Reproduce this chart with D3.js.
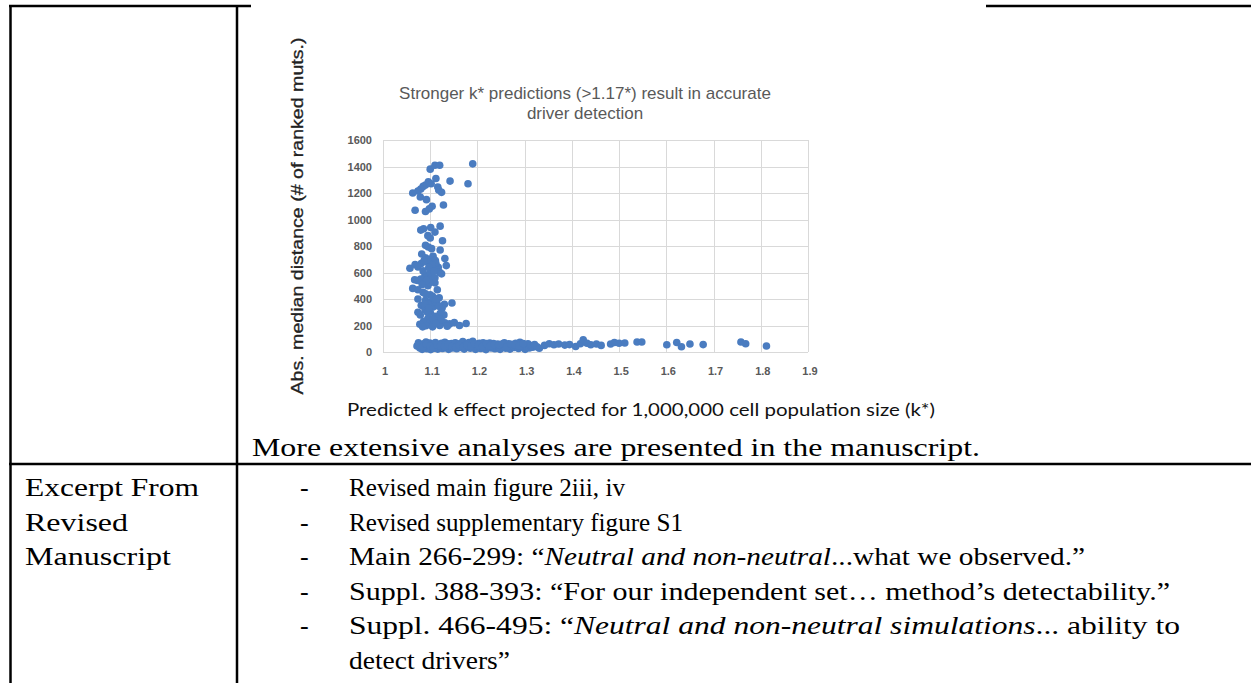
<!DOCTYPE html>
<html lang="en">
<head>
  <meta charset="UTF-8">
  <title>Stronger k* predictions result in accurate driver detection</title>
  <script src="https://d3js.org/d3.v7.min.js"></script>
  <style>
    body { margin: 0; padding: 0; background: #fff; }
    svg { display: block; }
    .doc { font-family: "Liberation Serif", "Times New Roman", serif; font-size: 26px; fill: #000; }
    .tick-label { font-family: "Liberation Sans", Arial, sans-serif; font-size: 11px; fill: #595959; font-weight: bold; }
  </style>
</head>
<body>
  <div id="chart"></div>

  <script>
    // scatter data: [k*, abs. median distance]
    const upperCluster = [
      [1.100, 1380], [1.110, 1410], [1.120, 1410], [1.190, 1420], [1.180, 1270], [1.142, 1290],
      [1.112, 1310], [1.090, 1260], [1.096, 1285], [1.102, 1270], [1.085, 1250], [1.080, 1230],
      [1.074, 1215], [1.063, 1200], [1.079, 1170], [1.116, 1245], [1.118, 1222], [1.124, 1205],
      [1.128, 1110], [1.092, 1150], [1.104, 1100], [1.068, 1070], [1.090, 1060], [1.098, 1080],
      [1.121, 950], [1.101, 940], [1.086, 930], [1.080, 920], [1.110, 905], [1.095, 878],
      [1.100, 860], [1.126, 840], [1.090, 805], [1.096, 792], [1.103, 780], [1.121, 770],
      [1.082, 740], [1.106, 722], [1.090, 710], [1.099, 700], [1.111, 690], [1.131, 705],
      [1.094, 680], [1.081, 668], [1.068, 660], [1.057, 632], [1.074, 642], [1.106, 662],
      [1.101, 648], [1.117, 640], [1.134, 652], [1.120, 602], [1.124, 590], [1.089, 578],
      [1.101, 562], [1.080, 550], [1.073, 540], [1.067, 545], [1.110, 522], [1.095, 500],
      [1.063, 480], [1.074, 470], [1.085, 450], [1.100, 432], [1.119, 410], [1.074, 400],
      [1.090, 390], [1.101, 378], [1.114, 370], [1.130, 360], [1.146, 370], [1.081, 352],
      [1.106, 340], [1.125, 330], [1.089, 320], [1.100, 300], [1.121, 290], [1.079, 280],
      [1.110, 270], [1.095, 252], [1.086, 232], [1.100, 222], [1.116, 232], [1.131, 220],
      [1.141, 212], [1.151, 222], [1.162, 200], [1.176, 215], [1.078, 210], [1.091, 198],
      [1.105, 190], [1.120, 200], [1.136, 195], [1.111, 382], [1.095, 362], [1.100, 600],
      [1.085, 612], [1.115, 470], [1.090, 440], [1.105, 420], [1.110, 560], [1.099, 522],
      [1.094, 300], [1.129, 280], [1.074, 300], [1.087, 690], [1.112, 670], [1.118, 345],
      [1.104, 655], [1.097, 640], [1.108, 610], [1.092, 540], [1.083, 510], [1.112, 400],
      [1.088, 360], [1.097, 330], [1.106, 250], [1.123, 245], [1.084, 190], [1.112, 215]
    ];

    const lowerBand = [
      [1.072, 45], [1.075, 70], [1.078, 30], [1.081, 55], [1.083, 20], [1.086, 62], [1.088, 40],
      [1.091, 75], [1.093, 25], [1.095, 50], [1.097, 35], [1.099, 68], [1.101, 18], [1.103, 48],
      [1.106, 60], [1.108, 28], [1.111, 72], [1.113, 42], [1.116, 22], [1.118, 58], [1.121, 38],
      [1.124, 66], [1.126, 26], [1.129, 52], [1.131, 74], [1.134, 32], [1.137, 56], [1.139, 20],
      [1.142, 44], [1.145, 64], [1.147, 30], [1.150, 50], [1.153, 70], [1.156, 24], [1.158, 46],
      [1.161, 62], [1.164, 34], [1.166, 54], [1.169, 78], [1.172, 22], [1.174, 44], [1.177, 60],
      [1.180, 36], [1.182, 72], [1.185, 28], [1.188, 52], [1.190, 80], [1.193, 40], [1.196, 20],
      [1.198, 58], [1.201, 34], [1.204, 66], [1.207, 26], [1.209, 48], [1.212, 70], [1.215, 38],
      [1.218, 18], [1.220, 56], [1.223, 42], [1.226, 68], [1.229, 30], [1.231, 50], [1.234, 64],
      [1.237, 24], [1.240, 46], [1.243, 60], [1.246, 36], [1.248, 20], [1.251, 54], [1.254, 40],
      [1.257, 70], [1.260, 28], [1.263, 48], [1.266, 62], [1.269, 22], [1.272, 42], [1.275, 56],
      [1.278, 34], [1.281, 66], [1.284, 48], [1.287, 26], [1.290, 74], [1.292, 58], [1.295, 38],
      [1.298, 50], [1.301, 20], [1.304, 44], [1.307, 62], [1.310, 30], [1.313, 48], [1.317, 36],
      [1.321, 56], [1.326, 40], [1.331, 28],
      [1.077, 52], [1.084, 38], [1.092, 58], [1.100, 44], [1.107, 30], [1.114, 54], [1.122, 48],
      [1.130, 40], [1.138, 62], [1.146, 42], [1.154, 36], [1.162, 48], [1.170, 40], [1.178, 50],
      [1.186, 44], [1.194, 62], [1.202, 50], [1.210, 42], [1.219, 64], [1.227, 48], [1.236, 56],
      [1.245, 52], [1.253, 62], [1.262, 40], [1.271, 58], [1.280, 52], [1.289, 44], [1.297, 64]
    ];

    const tail = [
      [1.342, 50], [1.352, 62], [1.362, 55], [1.372, 60], [1.385, 52], [1.395, 56], [1.408, 42],
      [1.418, 62], [1.424, 92], [1.432, 66], [1.440, 55], [1.452, 60], [1.462, 50], [1.482, 60],
      [1.490, 72], [1.500, 66], [1.512, 68], [1.538, 76], [1.548, 76], [1.601, 55], [1.622, 72],
      [1.632, 40], [1.650, 60], [1.678, 56], [1.758, 76], [1.768, 62], [1.812, 45]
    ];

    const xTicks = [1, 1.1, 1.2, 1.3, 1.4, 1.5, 1.6, 1.7, 1.8, 1.9];
    const yTicks = [0, 200, 400, 600, 800, 1000, 1200, 1400, 1600];

    const chartTitle = ["Stronger k* predictions (>1.17*)  result in accurate", "driver detection"];
    const yLabel = "Abs. median distance (# of ranked muts.)";
    const xLabel = "Predicted k effect projected for 1,000,000 cell population size (k*)";
    const noteText = "More extensive analyses are presented in the manuscript.";
    const leftCell = ["Excerpt From", "Revised", "Manuscript"];
    const leftWidths = [174, 103, 146];
    const bulletLines = [
      [{ t: "Revised main figure 2iii, iv" }],
      [{ t: "Revised supplementary figure S1" }],
      [{ t: "Main 266-299: \u201C" }, { t: "Neutral and non-neutral", i: true }, { t: "...what we observed.\u201D" }],
      [{ t: "Suppl. 388-393: \u201CFor our independent set\u2026 method\u2019s detectability.\u201D" }],
      [{ t: "Suppl. 466-495: \u201C" }, { t: "Neutral and non-neutral simulations", i: true }, { t: "... ability to" }],
      [{ t: "detect drivers\u201D" }]
    ];
    const bulletWidths = [276, 334, 736, 821, 831, 161];
    const bulletDash = [true, true, true, true, true, false];

    const W = 1251, H = 683;
    const svg = d3.select("#chart").append("svg")
      .attr("width", W).attr("height", H);

    // ---- table borders ----
    const border = svg.append("g").attr("stroke", "#000").attr("stroke-width", 2.5);
    border.append("line").attr("x1", 9).attr("x2", 251).attr("y1", 6).attr("y2", 6);
    border.append("line").attr("x1", 986).attr("x2", W).attr("y1", 6).attr("y2", 6);
    border.append("line").attr("x1", 10.5).attr("x2", 10.5).attr("y1", 5).attr("y2", H);
    border.append("line").attr("x1", 237).attr("x2", 237).attr("y1", 5).attr("y2", H);
    border.append("line").attr("x1", 9).attr("x2", W).attr("y1", 464).attr("y2", 464);

    // ---- scatter chart ----
    const plot = { left: 383, right: 808, top: 140, bottom: 352 };
    const x = d3.scaleLinear().domain([1, 1.9]).range([plot.left, plot.right]);
    const y = d3.scaleLinear().domain([0, 1600]).range([plot.bottom, plot.top]);

    const grid = svg.append("g").attr("stroke", "#d9d9d9").attr("stroke-width", 1);
    grid.selectAll(".gx").data(xTicks).join("line")
      .attr("x1", d => Math.round(x(d)) + 0.5).attr("x2", d => Math.round(x(d)) + 0.5)
      .attr("y1", plot.top).attr("y2", plot.bottom);
    grid.selectAll(".gy").data(yTicks).join("line")
      .attr("x1", plot.left).attr("x2", plot.right)
      .attr("y1", d => Math.round(y(d)) + 0.5).attr("y2", d => Math.round(y(d)) + 0.5);

    svg.append("g").selectAll("text").data(xTicks).join("text")
      .attr("class", "tick-label")
      .attr("x", d => x(d) + 2).attr("y", 375)
      .attr("text-anchor", "middle")
      .text(d => d3.format("")(d));

    svg.append("g").selectAll("text").data(yTicks).join("text")
      .attr("class", "tick-label")
      .attr("x", 372).attr("y", d => y(d) + 4)
      .attr("text-anchor", "end")
      .text(d => d);

    const allPoints = [...lowerBand, ...upperCluster, ...tail];
    svg.append("g").selectAll("circle").data(allPoints).join("circle")
      .attr("cx", d => x(d[0]))
      .attr("cy", d => y(d[1]))
      .attr("r", 3.8)
      .attr("fill", "#4a7cc0");

    svg.append("g").selectAll("text").data(chartTitle).join("text")
      .attr("x", 585).attr("y", (d, i) => 99 + i * 20)
      .attr("text-anchor", "middle")
      .attr("font-family", "Liberation Sans, Arial, sans-serif")
      .attr("font-size", 17)
      .attr("fill", "#595959")
      .text(d => d);

    svg.append("text")
      .attr("transform", "translate(303,216) rotate(-90)")
      .attr("text-anchor", "middle")
      .attr("font-family", "Liberation Sans, Arial, sans-serif")
      .attr("font-size", 17)
      .attr("fill", "#222")
      .attr("stroke", "#222").attr("stroke-width", 0.3)
      .attr("textLength", 357).attr("lengthAdjust", "spacingAndGlyphs")
      .text(yLabel);

    svg.append("text")
      .attr("x", 347).attr("y", 416)
      .attr("font-family", "Lato, 'Open Sans', sans-serif")
      .attr("font-size", 17)
      .attr("fill", "#111")
      .attr("textLength", 588).attr("lengthAdjust", "spacingAndGlyphs")
      .text(xLabel);

    // ---- document text ----
    svg.append("text").attr("class", "doc")
      .attr("x", 252).attr("y", 456)
      .attr("textLength", 728).attr("lengthAdjust", "spacingAndGlyphs")
      .text(noteText);

    svg.append("g").selectAll("text").data(leftCell).join("text")
      .attr("class", "doc")
      .attr("x", 25).attr("y", (d, i) => 496 + i * 34.6)
      .attr("textLength", (d, i) => leftWidths[i]).attr("lengthAdjust", "spacingAndGlyphs")
      .text(d => d);

    const rows = svg.append("g").selectAll("g").data(bulletLines).join("g");
    rows.filter((d, i) => bulletDash[i]).append("text")
      .attr("class", "doc")
      .attr("x", 300).attr("y", (d, i) => 496 + i * 34.6)
      .text("-");
    rows.append("text")
      .attr("class", "doc")
      .attr("x", 349).attr("y", (d, i) => 496 + i * 34.6)
      .attr("textLength", (d, i) => bulletWidths[i]).attr("lengthAdjust", "spacingAndGlyphs")
      .selectAll("tspan").data(d => d).join("tspan")
      .attr("font-style", d => d.i ? "italic" : null)
      .text(d => d.t);
  </script>
</body>
</html>
